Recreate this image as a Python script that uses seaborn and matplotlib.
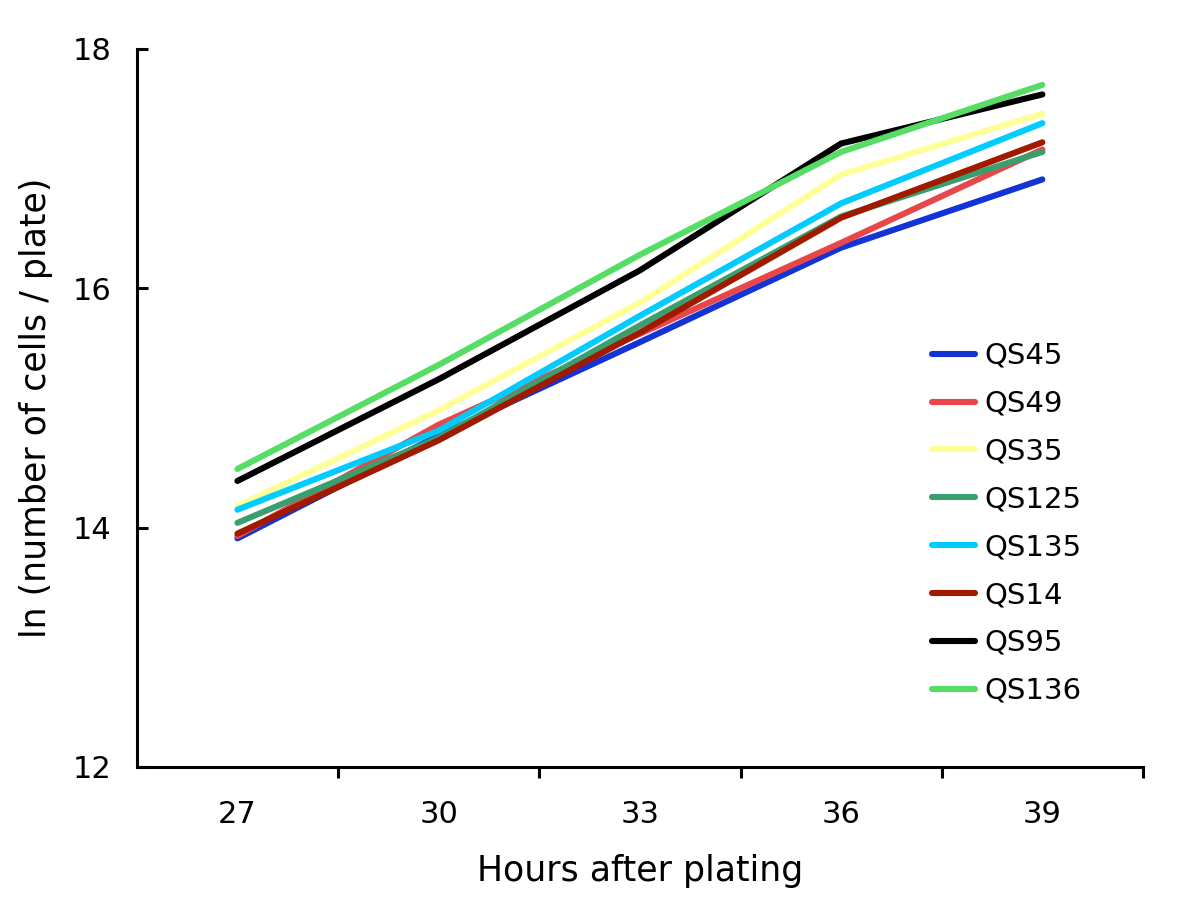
import matplotlib
matplotlib.use("Agg")
import matplotlib.pyplot as plt
import seaborn as sns
import pandas as pd
import numpy as np

hours = ["27", "30", "33", "36", "39"]
strains = ["QS45", "QS49", "QS35", "QS125", "QS135", "QS14", "QS95", "QS136"]
qs45 = [13.91, 14.77, 15.55, 16.34, 16.91]
qs49 = [13.93, 14.86, 15.62, 16.38, 17.16]
qs35 = [14.18, 14.98, 15.88, 16.95, 17.46]
qs125 = [14.04, 14.75, 15.69, 16.60, 17.14]
qs135 = [14.15, 14.81, 15.77, 16.71, 17.38]
qs14 = [13.95, 14.73, 15.63, 16.59, 17.22]
qs95 = [14.39, 15.24, 16.15, 17.21, 17.62]
qs136 = [14.49, 15.36, 16.28, 17.14, 17.70]
colors = ["#1433D6", "#E8474A", "#FFFF99", "#3A9F6E", "#00CCFF", "#A01A00", "#000000", "#55DD66"]

series = [qs45, qs49, qs35, qs125, qs135, qs14, qs95, qs136]
rows = []
for name, vals in zip(strains, series):
    for i, v in enumerate(vals):
        rows.append({"pos": i, "hour": hours[i], "strain": name, "value": v})
df = pd.DataFrame(rows)

sns.set_theme(style="white")
plt.rcParams["font.family"] = ["DejaVu Sans"]
plt.rcParams["text.color"] = "black"
plt.rcParams["axes.labelcolor"] = "black"
plt.rcParams["xtick.color"] = "black"
plt.rcParams["ytick.color"] = "black"

fig = plt.figure(figsize=(12, 9.17), dpi=100)
ax = fig.add_axes([0.114, 0.1636, 0.8385, 0.783])

sns.lineplot(data=df, x="pos", y="value", hue="strain", hue_order=strains,
             palette=dict(zip(strains, colors)), linewidth=4.4, ax=ax,
             legend=True)

ax.set_xlim(-0.5, 4.5)
ax.set_ylim(12, 18)
ax.set_xticks(range(len(hours)))
ax.set_xticklabels(hours)
ax.set_xticks(np.arange(0.5, 4.6, 1.0), minor=True)
ax.tick_params(axis="x", which="major", length=0, pad=24, labelsize=22)
ax.tick_params(axis="x", which="minor", length=8, width=2.2, direction="out", color="black", bottom=True)
ax.set_yticks([12, 14, 16, 18])
ax.tick_params(axis="y", which="major", length=8, width=2.2, direction="in", color="black", left=True, pad=18, labelsize=22)

for s in ["top", "right"]:
    ax.spines[s].set_visible(False)
for s in ["left", "bottom"]:
    ax.spines[s].set_color("black")
    ax.spines[s].set_linewidth(2.2)

ax.set_xlabel("Hours after plating", fontsize=25, labelpad=18)
ax.set_ylabel("ln (number of cells / plate)", fontsize=25, labelpad=14)

leg = ax.legend(loc="upper left", bbox_to_anchor=(0.79, 0.592), frameon=False,
                fontsize=21, handlelength=1.5, labelspacing=0.68, handletextpad=0.3,
                borderpad=0, borderaxespad=0)
for h in leg.get_lines():
    h.set_linewidth(4.4)

fig.savefig("out.png", dpi=100)
